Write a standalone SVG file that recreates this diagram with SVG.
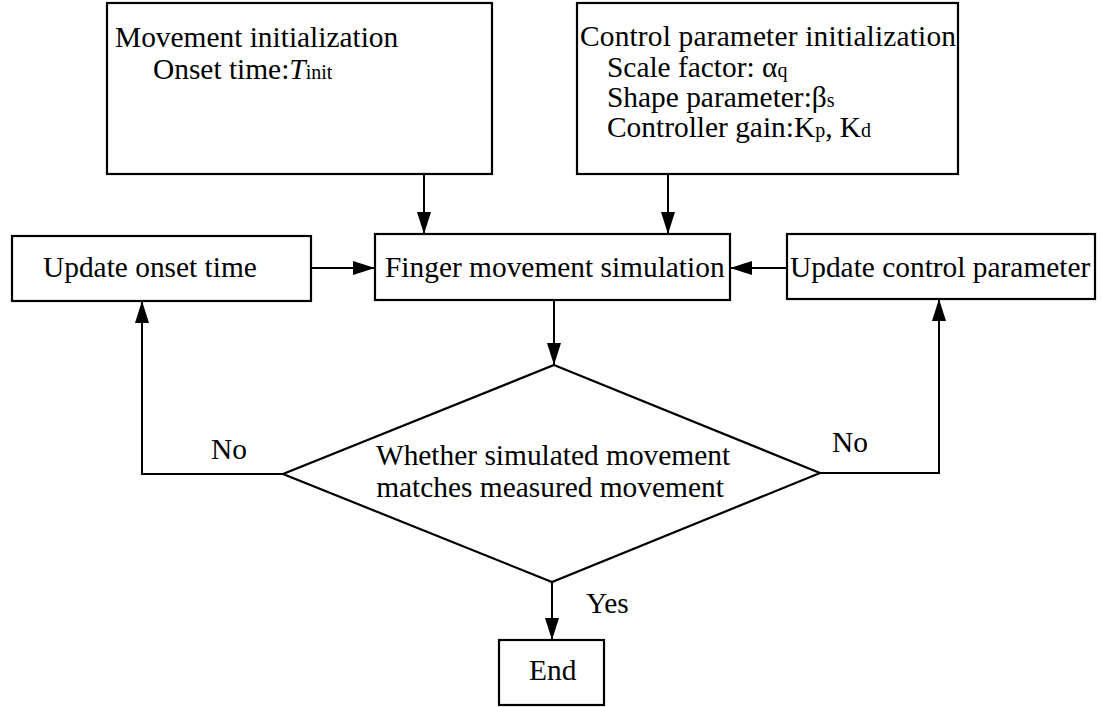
<svg xmlns="http://www.w3.org/2000/svg" width="1102" height="707" viewBox="0 0 1102 707">
<style>
.box{fill:#fff;stroke:#000;stroke-width:2.2}
.t{font-family:"Liberation Serif","Times New Roman",serif;font-size:29.4px;fill:#000}
.sub{font-size:20px}
.c{fill:none;stroke:#000;stroke-width:2}
</style>
<defs>
<marker id="ah" markerUnits="userSpaceOnUse" markerWidth="24" markerHeight="16" refX="22" refY="7" orient="auto">
<path d="M0,0 L22,7 L0,14 Z" fill="#000"/>
</marker>
</defs>
<rect width="1102" height="707" fill="#fff"/>
<g id="connectors">
<line class="c" x1="424" y1="175" x2="424" y2="234" marker-end="url(#ah)"/>
<line class="c" x1="668" y1="175" x2="668" y2="234" marker-end="url(#ah)"/>
<line class="c" x1="311" y1="268" x2="375" y2="268" marker-end="url(#ah)"/>
<line class="c" x1="787" y1="268" x2="730" y2="268" marker-end="url(#ah)"/>
<line class="c" x1="554" y1="300" x2="554" y2="365" marker-end="url(#ah)"/>
<polyline class="c" points="283,474 142,474 142,301" marker-end="url(#ah)"/>
<polyline class="c" points="820,473 939,473 939,299" marker-end="url(#ah)"/>
<line class="c" x1="552" y1="582" x2="552" y2="640" marker-end="url(#ah)"/>
<text class="t" x="211" y="459">No</text>
<text class="t" x="832" y="452">No</text>
<text class="t" x="586" y="613">Yes</text>
</g>
<g id="movement-init">
<rect class="box" x="107" y="3" width="385" height="171"/>
<text class="t" x="115" y="47">Movement initialization</text>
<text class="t" x="153" y="79">Onset time:<tspan font-style="italic">T</tspan><tspan class="sub">init</tspan></text>
</g>
<g id="control-init">
<rect class="box" x="577" y="3" width="381" height="171"/>
<text class="t" x="580" y="46" textLength="376" lengthAdjust="spacing">Control parameter initialization</text>
<text class="t" x="607" y="77">Scale factor: α<tspan class="sub">q</tspan></text>
<text class="t" x="607" y="107">Shape parameter:β<tspan class="sub">s</tspan></text>
<text class="t" x="607" y="137">Controller gain:K<tspan class="sub">p</tspan>, K<tspan class="sub">d</tspan></text>
</g>
<g id="update-onset">
<rect class="box" x="12" y="236" width="299" height="65"/>
<text class="t" x="43" y="277">Update onset time</text>
</g>
<g id="finger-sim">
<rect class="box" x="375" y="234" width="355" height="66"/>
<text class="t" x="385" y="277">Finger movement simulation</text>
</g>
<g id="update-control">
<rect class="box" x="787" y="234" width="308" height="65"/>
<text class="t" x="790" y="277">Update control parameter</text>
</g>
<g id="decision">
<polygon class="box" points="554,365 820,473 552,582 283,474"/>
<text class="t" x="553" y="465" text-anchor="middle">Whether simulated movement</text>
<text class="t" x="550" y="497" text-anchor="middle">matches measured movement</text>
</g>
<g id="end">
<rect class="box" x="499" y="640" width="105" height="65"/>
<text class="t" x="529" y="680">End</text>
</g>
</svg>
